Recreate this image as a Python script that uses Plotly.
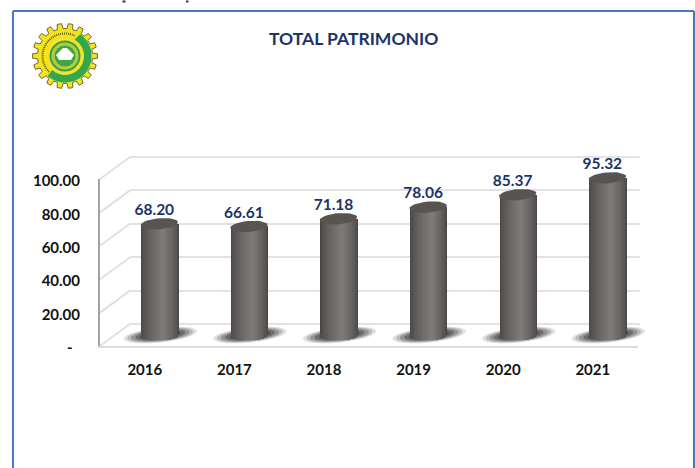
import math
import plotly.graph_objects as go

YEARS = ["2016", "2017", "2018", "2019", "2020", "2021"]
VALUES = [68.20, 66.61, 71.18, 78.06, 85.37, 95.32]
VALUE_LABELS = ["68.20", "66.61", "71.18", "78.06", "85.37", "95.32"]
Y_TICKS = [0, 20, 40, 60, 80, 100]
Y_TICK_LABELS = ["-\u00a0\u00a0", "20.00", "40.00", "60.00", "80.00", "100.00"]
TITLE = "TOTAL PATRIMONIO"

W, H = 695, 468
FONT = "Lato, Carlito, Calibri, sans-serif"
NAVY = "#1b3468"
SLOT = 89.6       # px per category
BAR_PX = 1.69     # px per value unit on the bar axis


def px(x):
    return x / W


def py(y):
    return 1 - y / H


def lerp_color(a, b, t):
    return "rgb(%d,%d,%d)" % tuple(round(a[i] + (b[i] - a[i]) * t) for i in range(3))


fig = go.Figure()

# Cylinder bodies: nested bars, lighter towards the middle
R = 18.7
LAYERS = 16
EDGE, MID = (74, 71, 70), (128, 124, 122)
for k in range(LAYERS):
    f = 1 - k / LAYERS
    half = R * f
    shift = 0.16 * R * (1 - f)
    lift = (4 - 5.5 * math.sqrt(max(0, 1 - f * f))) / BAR_PX
    fig.add_trace(go.Bar(
        x=list(range(len(VALUES))),
        y=[v - lift for v in VALUES],
        base=[lift] * len(VALUES),
        width=[2 * half / SLOT] * len(VALUES),
        offset=[(shift - half) / SLOT] * len(VALUES),
        marker=dict(color=lerp_color(EDGE, MID, (1 - f) ** 0.7), line=dict(width=0)),
        xaxis="x3", yaxis="y3", hoverinfo="skip", showlegend=False,
    ))

# Cylinder tops
tilt = math.radians(-5)
for i, v in enumerate(VALUES):
    xs, ys = [], []
    for d in range(0, 361, 10):
        a = math.radians(d)
        ex, ey = R * math.cos(a), 5.5 * math.sin(a)
        rx = ex * math.cos(tilt) - ey * math.sin(tilt)
        ry = ex * math.sin(tilt) + ey * math.cos(tilt)
        xs.append(i + rx / SLOT)
        ys.append(v - ry / BAR_PX)
    fig.add_trace(go.Scatter(
        x=xs, y=ys, mode="lines", fill="toself", fillcolor="#585452",
        line=dict(width=0, color="#585452"),
        xaxis="x3", yaxis="y3", hoverinfo="skip", showlegend=False,
    ))

# Value labels
fig.add_trace(go.Scatter(
    x=[i - 5 / SLOT for i in range(len(VALUES))],
    y=[v + 12.5 / BAR_PX for v in VALUES],
    text=VALUE_LABELS, mode="text", textposition="middle center",
    textfont=dict(family=FONT, size=15.5, color=NAVY, weight="bold"),
    xaxis="x3", yaxis="y3", hoverinfo="skip", showlegend=False,
))

shapes = []

# Floor shadows (soft, stacked, slightly tilted ellipses)
sh_tilt = math.radians(-6)
for i in range(len(VALUES)):
    for s, op in [(1.0, 0.14), (0.9, 0.2), (0.8, 0.26), (0.68, 0.34), (0.55, 0.42)]:
        pts = []
        for d in range(0, 360, 15):
            a = math.radians(d)
            ex, ey = 37 * s * math.cos(a), 7.5 * s * math.sin(a)
            rx = ex * math.cos(sh_tilt) - ey * math.sin(sh_tilt)
            ry = ex * math.sin(sh_tilt) + ey * math.cos(sh_tilt)
            pts.append("%.4f,%.4f" % (i + (rx + 1) / SLOT, 2.4 - ry / BAR_PX))
        shapes.append(dict(
            type="path", xref="x3", yref="y3", layer="between",
            path="M" + " L".join(pts) + " Z",
            fillcolor="rgba(35,33,33,%.2f)" % op, line=dict(width=0),
        ))

# Side wall / floor perspective lines joining front axis and back wall
for t in Y_TICKS:
    y_front = 346 - t * 1.67
    y_back = 324 - t * 1.67
    shapes.append(dict(
        type="line", xref="paper", yref="paper", layer="below",
        x0=px(100), x1=px(130), y0=py(y_front), y1=py(y_back),
        line=dict(color="#e0e0e0", width=2),
    ))

# Page frame
for x0, y0, x1, y1 in [(13, 11, 13, 468), (13, 11, 694, 11), (694, 11, 694, 468)]:
    shapes.append(dict(
        type="line", xref="paper", yref="paper", layer="above",
        x0=px(x0), x1=px(x1), y0=py(y0), y1=py(y1),
        line=dict(color="#4a76c6", width=2),
    ))

# Slivers of the cropped line of text above the frame
for x0, x1 in [(122.5, 125.5), (186, 188.5)]:
    shapes.append(dict(
        type="line", xref="paper", yref="paper", layer="above",
        x0=px(x0), x1=px(x1), y0=py(1.5), y1=py(1.5),
        line=dict(color="#333333", width=2),
    ))


# Logo
def poly(points, close=True):
    return "M" + " L".join("%.5f,%.5f" % (px(a), py(b)) for a, b in points) + (" Z" if close else "")


def disc(cx, cy, r, color, line=None):
    return dict(
        type="circle", xref="paper", yref="paper", layer="above",
        x0=px(cx - r), x1=px(cx + r), y0=py(cy + r), y1=py(cy - r),
        fillcolor=color, line=dict(width=0.8 if line else 0, color=line or color),
    )


LX, LY = 65, 56
gear = []
TEETH = 18
for n in range(TEETH):
    a0 = 2 * math.pi * n / TEETH
    step = 2 * math.pi / TEETH
    for frac, rad in [(-0.30, 27.5), (-0.20, 32.5), (0.20, 32.5), (0.30, 27.5)]:
        a = a0 + frac * step
        gear.append((LX + rad * math.cos(a), LY + rad * math.sin(a)))
shapes.append(dict(
    type="path", xref="paper", yref="paper", layer="above", path=poly(gear),
    fillcolor="#f4e21c", line=dict(color="#6b6a3a", width=1),
))
# Green band on the right and bottom
arc = []
for d in range(-55, 132, 6):
    a = math.radians(d)
    arc.append((LX + 26.5 * math.cos(a), LY + 26.5 * math.sin(a)))
for d in range(132, -61, -6):
    a = math.radians(d)
    arc.append((LX + 19 * math.cos(a), LY + 19 * math.sin(a)))
shapes.append(dict(
    type="path", xref="paper", yref="paper", layer="above", path=poly(arc),
    fillcolor="#2fa84f", line=dict(width=0),
))
# Ring of tiny lettering on the yellow part
ring = []
for d in range(135, 300, 5):
    a = math.radians(d)
    ring.append((LX + 22.5 * math.cos(a), LY + 22.5 * math.sin(a)))
shapes.append(dict(
    type="path", xref="paper", yref="paper", layer="above", path=poly(ring, close=False),
    line=dict(color="#5b5a20", width=2, dash="1px,1px"),
))
shapes += [
    disc(LX, LY, 17.5, "#f2e23a"),
    disc(LX, LY, 15.5, "#3aa047"),
    disc(LX, LY, 13.5, "#b5cc3c"),
    disc(LX, LY, 10.5, "#3fa543"),
]
shapes.append(dict(
    type="path", xref="paper", yref="paper", layer="above",
    path=poly([(LX - 9, LY - 1), (LX - 5, LY - 5), (LX - 2, LY - 8), (LX + 2, LY - 8),
               (LX + 5, LY - 5), (LX + 9, LY - 1), (LX + 6, LY + 4), (LX - 6, LY + 4)]),
    fillcolor="#ffffff", line=dict(width=0),
))

annotations = [
    dict(text=TITLE, x=px(353), y=py(38), xref="paper", yref="paper", showarrow=False,
         xanchor="center", yanchor="middle",
         font=dict(family=FONT, size=17.5, color=NAVY, weight="bold")),
]

HIDDEN = dict(showgrid=False, zeroline=False, showline=False, showticklabels=False, ticks="")

fig.update_layout(
    template="none",
    width=W, height=H, margin=dict(l=0, r=0, t=0, b=0),
    paper_bgcolor="white", plot_bgcolor="rgba(0,0,0,0)",
    barmode="overlay", showlegend=False, bargap=0,
    shapes=shapes, annotations=annotations,
    font=dict(family=FONT),
    xaxis=dict(
        domain=[px(100), px(637.6)], range=[-0.5, 5.5], anchor="y", automargin=False,
        tickmode="array", tickvals=list(range(6)), ticktext=YEARS,
        showgrid=False, zeroline=False, showline=True, linecolor="#dcdcdc", linewidth=2,
        ticks="outside", ticklen=9, tickcolor="rgba(0,0,0,0)",
        tickfont=dict(family=FONT, size=15, color="#111111", weight="bold"),
    ),
    yaxis=dict(
        domain=[py(346), py(179)], range=[0, 100], anchor="x", automargin=False,
        tickmode="array", tickvals=Y_TICKS, ticktext=Y_TICK_LABELS, ticklabelshift=2,
        showgrid=False, zeroline=False, showline=True, linecolor="#a3a3a3", linewidth=2,
        ticks="outside", ticklen=15, tickcolor="rgba(0,0,0,0)",
        tickfont=dict(family=FONT, size=15, color="#111111", weight="bold"),
    ),
    xaxis2=dict(domain=[px(130), px(640)], range=[0, 1], anchor="y2", automargin=False, **HIDDEN),
    yaxis2=dict(
        domain=[py(324 + 3 * 1.67), py(157 - 3 * 1.67)], range=[-3, 103], anchor="x2", automargin=False,
        tickmode="array", tickvals=Y_TICKS, showticklabels=False, ticks="",
        showgrid=True, gridcolor="#e2e2e2", gridwidth=2, zeroline=False, showline=False,
    ),
    xaxis3=dict(domain=[px(114.5), px(652.1)], range=[-0.5, 5.5], anchor="y3", automargin=False, **HIDDEN),
    yaxis3=dict(
        domain=[py(339 + 10 * BAR_PX), py(339 - 110 * BAR_PX)], range=[-10, 110],
        anchor="x3", automargin=False, **HIDDEN,
    ),
)

# A trace on x2/y2 so that the back wall grid is drawn
fig.add_trace(go.Scatter(x=[0], y=[0], mode="markers", marker=dict(opacity=0),
                         xaxis="x2", yaxis="y2", hoverinfo="skip", showlegend=False))
# A trace on the front axes so that their ticks are drawn
fig.add_trace(go.Scatter(x=[0], y=[0], mode="markers", marker=dict(opacity=0),
                         xaxis="x", yaxis="y", hoverinfo="skip", showlegend=False))

fig.write_html("out.html", config={"displayModeBar": False},
               post_script="document.body.style.margin='0';")
